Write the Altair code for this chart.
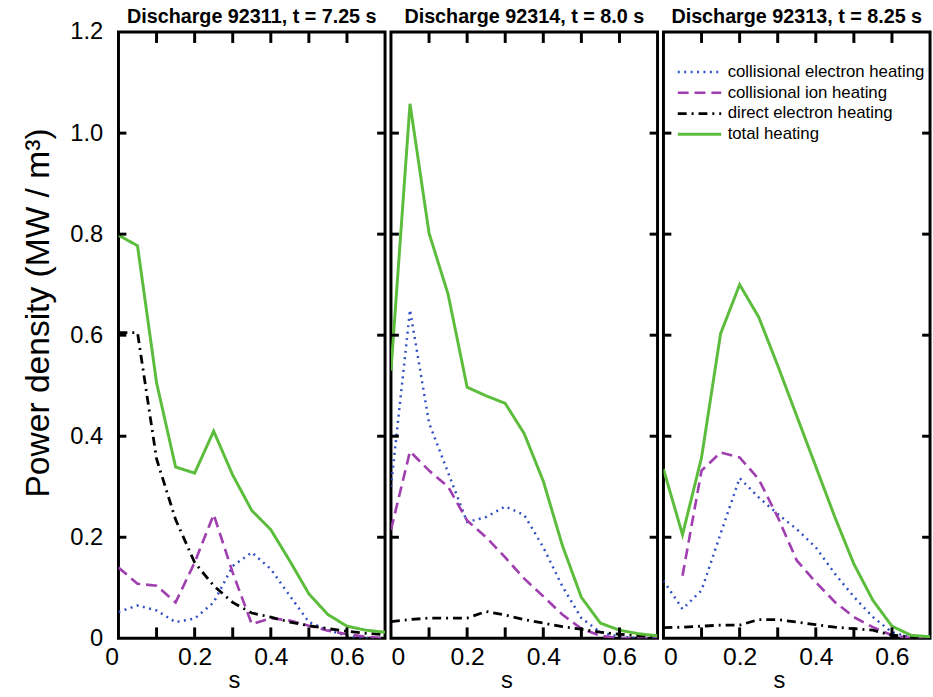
import altair as alt
import pandas as pd

# radial coordinate s
s = [0.0, 0.05, 0.10, 0.15, 0.20, 0.25, 0.30, 0.35, 0.40, 0.45, 0.50, 0.55, 0.60, 0.65, 0.70]

series_names = ["collisional electron heating", "collisional ion heating",
                "direct electron heating", "total heating"]

titles = ["Discharge 92311, t = 7.25 s", "Discharge 92314, t = 8.0 s", "Discharge 92313, t = 8.25 s"]

# Discharge 92311
elec1 = [0.052, 0.065, 0.055, 0.032, 0.039, 0.071, 0.143, 0.170, 0.137, 0.084, 0.032, 0.016, 0.005, 0.0, 0.0]
ion1 = [0.140, 0.108, 0.104, 0.071, 0.150, 0.245, 0.130, 0.028, 0.040, 0.035, 0.025, 0.015, 0.008, 0.003, 0.0]
direct1 = [0.605, 0.605, 0.355, 0.235, 0.150, 0.104, 0.071, 0.050, 0.042, 0.032, 0.025, 0.019, 0.014, 0.010, 0.007]
total1 = [0.798, 0.777, 0.506, 0.339, 0.327, 0.410, 0.323, 0.253, 0.215, 0.153, 0.088, 0.047, 0.024, 0.016, 0.012]

# Discharge 92314
elec2 = [0.300, 0.650, 0.426, 0.328, 0.230, 0.240, 0.261, 0.244, 0.180, 0.103, 0.040, 0.012, 0.003, 0.0, 0.0]
ion2 = [0.215, 0.370, 0.332, 0.300, 0.233, 0.200, 0.160, 0.118, 0.083, 0.047, 0.019, 0.005, 0.0, 0.0, 0.0]
direct2 = [0.033, 0.037, 0.040, 0.040, 0.040, 0.053, 0.046, 0.037, 0.030, 0.023, 0.018, 0.012, 0.008, 0.005, 0.003]
total2 = [0.530, 1.058, 0.802, 0.681, 0.497, 0.480, 0.465, 0.405, 0.311, 0.184, 0.081, 0.030, 0.016, 0.009, 0.005]

# Discharge 92313
elec3 = [0.114, 0.058, 0.095, 0.207, 0.317, 0.279, 0.246, 0.216, 0.180, 0.128, 0.082, 0.042, 0.012, 0.002, 0.0]
ion3 = [None, 0.124, 0.332, 0.368, 0.358, 0.315, 0.240, 0.154, 0.111, 0.072, 0.042, 0.022, 0.006, 0.0, 0.0]
direct3 = [0.021, 0.022, 0.024, 0.026, 0.026, 0.037, 0.037, 0.032, 0.027, 0.022, 0.019, 0.016, 0.006, 0.003, 0.0]
total3 = [0.335, 0.205, 0.358, 0.603, 0.700, 0.636, 0.540, 0.440, 0.340, 0.240, 0.147, 0.075, 0.024, 0.006, 0.003]

panels = [
    [elec1, ion1, direct1, total1],
    [elec2, ion2, direct2, total2],
    [elec3, ion3, direct3, total3],
]

x_tick_vals = [0.1, 0.2, 0.3, 0.4, 0.5, 0.6]
y_tick_vals = [0.2, 0.4, 0.6, 0.8, 1.0]

colors = ["#2f4fc4", "#a03fb0", "#000000", "#5cbd3c"]
dashes = [[2, 4.5], [11, 6], [9, 5, 2, 5], [1, 0]]
widths = [2.5, 3.0, 2.8, 3.4]

H = 614
widths_px = [270, 270, 270]

xscale = alt.Scale(domain=[0, 0.7], nice=False, zero=False)
yscale = alt.Scale(domain=[0, 1.2], nice=False)


def make_xaxis(i, W):
    kw = {}
    if i == 0:
        kw["labelAlign"] = alt.condition("datum.value == 0", alt.value("right"), alt.value("center"))
    return alt.Axis(values=[0, 0.2, 0.4, 0.6], format=".1~f", ticks=False, tickSize=0, domain=False,
                    grid=False, labelFontSize=25, labelFont="Liberation Sans",
                    labelPadding=7, title="s", titleFontSize=24, titleFont="Liberation Sans",
                    titleFontWeight="normal", titleX=W / 2 - 18, titleY=55,
                    titleAlign="center", titleBaseline="bottom",
                    labelColor="black", titleColor="black", **kw)


yaxis = alt.Axis(values=[0, 0.2, 0.4, 0.6, 0.8, 1.0, 1.2],
                 labelExpr="datum.value == 0 ? '0' : format(datum.value, '.1f')",
                 ticks=False, tickSize=0, domain=False, grid=False, labelFontSize=24,
                 labelFont="Liberation Sans", labelPadding=16,
                 title="Power density (MW / m³)", titleFontSize=34,
                 titleFont="Liberation Sans", titleFontWeight="normal",
                 titleX=-81, titleY=284, titleAngle=-90, titleAlign="center",
                 titleBaseline="middle", labelColor="black", titleColor="black")


def panel(i):
    rows = []
    for name, vals in zip(series_names, panels[i]):
        for xv, yv in zip(s, vals):
            if yv is not None:
                rows.append({"x": xv, "y": yv, "series": name})
    df = pd.DataFrame(rows)
    W = widths_px[i]
    xaxis = make_xaxis(i, W)
    show_y = i == 0
    legend = None
    if i == 2:
        legend = alt.Legend(title=None, orient="none", legendX=24, legendY=28, padding=0,
                            symbolType="M-2,0H2", symbolSize=484, symbolStrokeWidth=2.8,
                            labelFontSize=17, labelFont="Liberation Sans", labelColor="black",
                            labelOffset=16, rowPadding=0, labelLimit=400)
    ya = yaxis if show_y else None
    lines = alt.Chart(df).mark_line(clip=True).encode(
        x=alt.X("x:Q", scale=xscale, axis=xaxis),
        y=alt.Y("y:Q", scale=yscale, axis=ya),
        color=alt.Color("series:N", scale=alt.Scale(domain=series_names, range=colors),
                        legend=legend, sort=series_names),
        strokeDash=alt.StrokeDash("series:N", scale=alt.Scale(domain=series_names, range=dashes),
                                  legend=legend, sort=series_names),
        strokeWidth=alt.StrokeWidth("series:N", scale=alt.Scale(domain=series_names, range=widths),
                                    legend=None),
    )
    xt = pd.DataFrame({"x": x_tick_vals})
    yt = pd.DataFrame({"y": y_tick_vals})
    bottom = alt.Chart(xt).mark_rule(color="black", strokeWidth=3).encode(
        x=alt.X("x:Q", scale=xscale, axis=xaxis), y=alt.value(H), y2=alt.value(H - 11))
    top = alt.Chart(xt).mark_rule(color="black", strokeWidth=3).encode(
        x=alt.X("x:Q", scale=xscale, axis=xaxis), y=alt.value(0), y2=alt.value(11))
    left = alt.Chart(yt).mark_rule(color="black", strokeWidth=3).encode(
        y=alt.Y("y:Q", scale=yscale, axis=ya), x=alt.value(0), x2=alt.value(8))
    right = alt.Chart(yt).mark_rule(color="black", strokeWidth=3).encode(
        y=alt.Y("y:Q", scale=yscale, axis=ya), x=alt.value(W), x2=alt.value(W - 8))
    ttl = alt.Chart(pd.DataFrame({"t": [titles[i]]})).mark_text(
        fontSize=20, fontWeight="bold", font="Liberation Sans", color="black",
        baseline="top", align="center", clip=False
    ).encode(text="t:N", x=alt.value(W / 2), y=alt.value(-25))
    return alt.layer(lines, bottom, top, left, right, ttl).properties(width=W, height=H)


chart = alt.hconcat(panel(0), panel(1), panel(2), spacing=0).resolve_scale(
    color="independent", strokeDash="independent", strokeWidth="independent"
).properties(
    padding={"top": 1, "left": 20, "right": 0, "bottom": 0}
).configure_view(stroke="black", strokeWidth=3)

chart.save("out.html", embed_options={"renderer": "svg", "actions": False})
